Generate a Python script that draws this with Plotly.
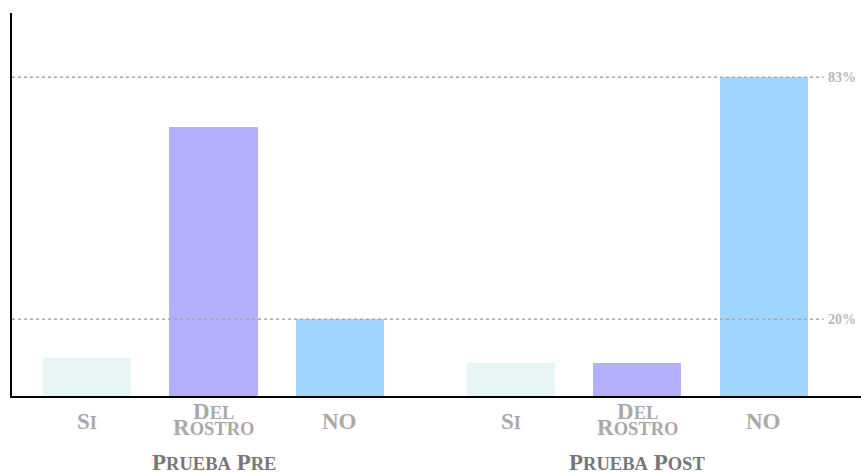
import plotly.graph_objects as go

# data
groups = ["Prueba Pre", "Prueba Post"]
categories = ["Si", "Del Rostro", "NO"]
values = {
    "Prueba Pre": [10, 70, 20],
    "Prueba Post": [8.5, 8.5, 83],
}
ref_lines = [83, 20]
bar_colors = ["#e8f5f5", "#b5b0fd", "#a0d6fd"]

GROUP_STEP = 3.35  # distance between groups in category units


def small_caps(text, big, small):
    # fake small caps: uppercase letters big, lowercase letters uppercased and smaller
    out = ""
    for ch in text:
        if ch.islower():
            out += f"<span style='font-size:{small}px'>{ch.upper()}</span>"
        else:
            out += ch
    return f"<span style='font-size:{big}px'>{out}</span>"


fig = go.Figure()
annotations = []
serif = "Liberation Serif"

for g, grp in enumerate(groups):
    xs = [g * GROUP_STEP + i for i in range(len(categories))]
    fig.add_trace(go.Bar(
        x=xs,
        y=values[grp],
        width=0.696,
        marker=dict(color=bar_colors, line=dict(width=0)),
        showlegend=False,
        hoverinfo="y",
    ))
    for x, cat in zip(xs, categories):
        words = cat.split(" ")
        if len(words) == 1:
            shifts = [-25.5]
        else:
            shifts = [-15, -31.5]
        for w, s in zip(words, shifts):
            annotations.append(dict(
                x=x, y=0, xref="x", yref="paper", yshift=s,
                text=small_caps(w, 23, 18.5), showarrow=False,
                xanchor="center", yanchor="middle",
                font=dict(family=serif, color="#a9a9a9", weight="bold"),
            ))
    annotations.append(dict(
        x=(xs[0] + xs[-1]) / 2, y=0, xref="x", yref="paper", yshift=-66,
        text=small_caps(grp, 23, 18.5), showarrow=False,
        xanchor="center", yanchor="middle",
        font=dict(family=serif, color="#777777", weight="bold"),
    ))

shapes = []
for v in ref_lines:
    shapes.append(dict(
        type="line", xref="paper", yref="y", x0=0, x1=0.956, y0=v, y1=v,
        line=dict(color="#a8a8a8", width=1.5, dash="dot"), layer="above",
    ))
    annotations.append(dict(
        x=1, y=v, xref="paper", yref="y", xanchor="right", yanchor="middle",
        xshift=-3, text=f"{v}%", showarrow=False,
        font=dict(family=serif, size=14, color="#b8b8b8", weight="bold"),
    ))

fig.update_layout(
    width=861, height=472,
    margin=dict(l=12, r=0, t=13, b=76),
    paper_bgcolor="white", plot_bgcolor="white",
    xaxis=dict(range=[-0.593, 6.119], showticklabels=False, showgrid=False,
               zeroline=False, showline=True, linecolor="black", linewidth=2,
               ticks=""),
    yaxis=dict(range=[0, 99.7], showticklabels=False, showgrid=False,
               zeroline=False, showline=True, linecolor="black", linewidth=2,
               ticks=""),
    shapes=shapes,
    annotations=annotations,
    bargap=0,
)

# drop the default page margin so the figure fills the window exactly
fig.write_html(
    "out.html",
    config={"displayModeBar": False},
    post_script="document.body.style.margin='0';document.body.style.overflow='hidden';",
)
